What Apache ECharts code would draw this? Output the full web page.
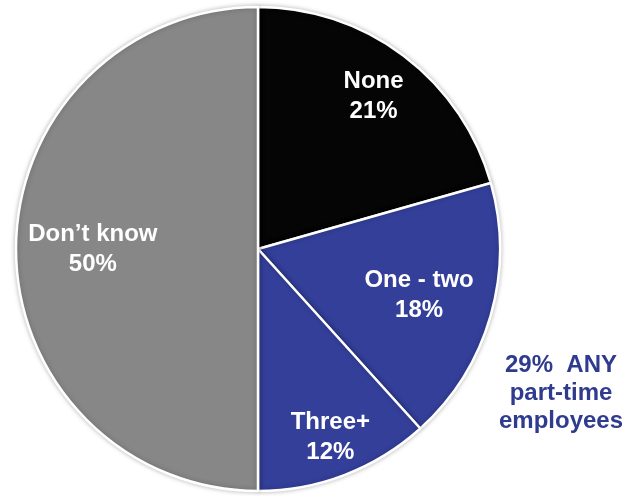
<!DOCTYPE html>
<html><head><meta charset="utf-8">
<script src="https://cdn.jsdelivr.net/npm/echarts@6/dist/echarts.min.js"></script>
<style>html,body{margin:0;padding:0;background:#fff}#c{width:639px;height:496px}</style>
</head><body><div id="c"></div>
<script>
const categories = ['None', 'One - two', 'Three+', 'Don\u2019t know'];
const values = [20.6, 17.7, 11.7, 50];
const colors = ['#050505', '#333f99', '#333f99', '#878787'];
const labelRadius = [0.78, 0.68, 0.82, 0.67];
const note = '29%  ANY\npart-time\nemployees';

const R = 242;
const total = values.reduce((a, b) => a + b, 0);
const mids = [];
let acc = 0;
values.forEach(v => { mids.push((acc + v / 2) / total * 2 * Math.PI); acc += v; });

const chart = echarts.init(document.getElementById('c'));
chart.setOption({
  animation: false,
  series: [{
    type: 'pie',
    center: [258, 249],
    radius: [0, R],
    startAngle: 90,
    clockwise: true,
    avoidLabelOverlap: false,
    data: categories.map((n, i) => ({ name: n, value: values[i], itemStyle: { color: colors[i] } })),
    itemStyle: { borderColor: '#fff', borderWidth: 2.5, shadowBlur: 5, shadowColor: 'rgba(0,0,0,0.25)' },
    label: {
      show: true, position: 'inside',
      formatter: p => p.name + '\n' + Math.round(p.value) + '%',
      color: '#fff', fontFamily: 'Liberation Sans, Arial, sans-serif', fontWeight: 'bold',
      fontSize: 24, lineHeight: 30
    },
    labelLine: { show: false },
    emphasis: { disabled: true },
    labelLayout: function (p) {
      const i = p.dataIndex;
      const d = (labelRadius[i] - 0.5) * R;
      return { dx: d * Math.sin(mids[i]), dy: -d * Math.cos(mids[i]) };
    }
  }],
  graphic: [{
    type: 'text', x: 561, y: 351,
    style: {
      text: note, textAlign: 'center', fill: '#2f3b8f',
      font: 'bold 24px "Liberation Sans", Arial, sans-serif', lineHeight: 28
    }
  }]
});
</script></body></html>
